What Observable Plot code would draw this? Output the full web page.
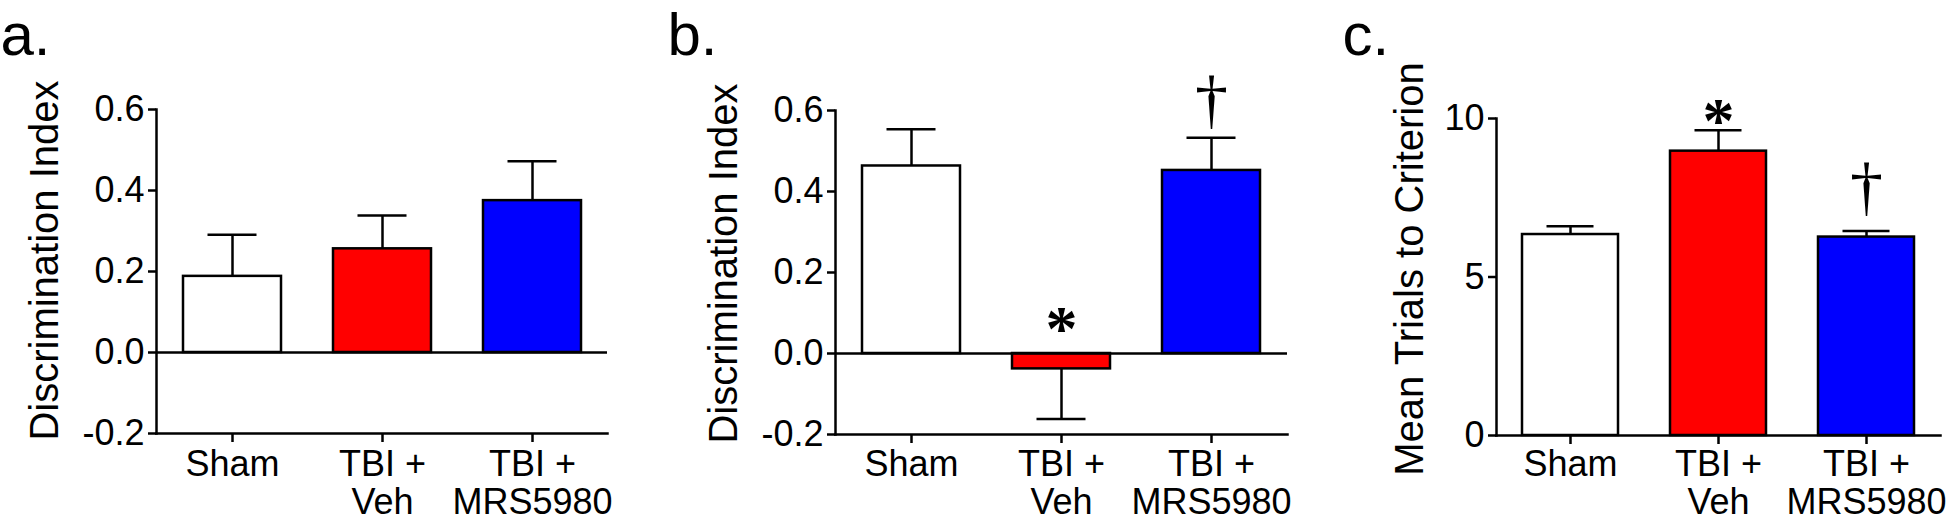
<!DOCTYPE html>
<html><head><meta charset="utf-8">
<script src="https://cdn.jsdelivr.net/npm/d3@7"></script>
<script src="https://cdn.jsdelivr.net/npm/@observablehq/plot@0.6"></script>
<style>
body{margin:0;background:#fff;}
#wrap{position:relative;width:1946px;height:522px;overflow:hidden;background:#fff;}
.panel{position:absolute;top:0;}
</style></head><body><div id="wrap"></div>
<script>
// ---- data ----
const groups = ["Sham", "TBI + Veh", "TBI + MRS5980"];
const groupLabels = ["Sham", "TBI +\nVeh", "TBI +\nMRS5980"];
const groupColors = ["#ffffff", "#ff0000", "#0000ff"];

const meanA = [0.188, 0.256, 0.375];
const semA  = [0.103, 0.082, 0.097];
const meanB = [0.463, -0.038, 0.452];
const semB  = [0.091, 0.124, 0.081];
const meanC = [6.34, 8.97, 6.26];
const semC  = [0.26, 0.66, 0.19];

const ticksDI = [-0.2, 0, 0.2, 0.4, 0.6];
const tickLabelsDI = ["-0.2", "0.0", "0.2", "0.4", "0.6"];
const ticksTrials = [0, 5, 10];
const tickLabelsTrials = ["0", "5", "10"];

const annotB = [{group: "TBI + Veh", symbol: "*"}, {group: "TBI + MRS5980", symbol: "\u2020"}];
const annotC = [{group: "TBI + Veh", symbol: "*"}, {group: "TBI + MRS5980", symbol: "\u2020"}];

const FONT = "'Liberation Sans', Arial, Helvetica, sans-serif";
const SERIF = "'Liberation Serif', 'Times New Roman', serif";
const SW = 2.5;

function panel(cfg) {
  const data = groups.map((g, i) => ({
    g, mean: cfg.means[i], color: groupColors[i],
    end: cfg.means[i] < 0 ? cfg.means[i] - cfg.sems[i] : cfg.means[i] + cfg.sems[i]
  }));
  const byGroup = new Map(data.map(d => [d.g, d]));
  const marks = [
    Plot.barY(data, {x: "g", y: "mean", fill: "color", stroke: "black", strokeWidth: SW}),
    Plot.ruleX(data, {x: "g", y1: "mean", y2: "end", stroke: "black", strokeWidth: SW}),
    Plot.tickY(data, {x: "g", y: "end", stroke: "black", strokeWidth: SW, insetLeft: 24.5, insetRight: 24.5}),
  ];
  if (cfg.zero) marks.push(Plot.ruleY([0], {stroke: "black", strokeWidth: SW}));
  marks.push(
    Plot.frame({anchor: "left", stroke: "black", strokeWidth: SW}),
    Plot.frame({anchor: "bottom", stroke: "black", strokeWidth: SW}),
    Plot.axisY({ticks: cfg.ticks, tickFormat: (d) => cfg.tickLabels[cfg.ticks.indexOf(d)], tickSize: 8, tickPadding: 4,
      strokeWidth: SW, fontSize: 36, fontFamily: FONT, fill: "black", label: null}),
    Plot.axisX({tickSize: 9, tickPadding: cfg.xPad, strokeWidth: SW, fontSize: 36, fontFamily: FONT, fill: "black",
      lineHeight: 1.04, tickFormat: (d) => groupLabels[groups.indexOf(d)], label: null}),
    Plot.text([cfg.title], {frameAnchor: "left", rotate: -90, dx: -cfg.titleOffset, dy: cfg.titleDy,
      fontSize: 40, fontFamily: FONT, fill: "black", textAnchor: "middle", lineAnchor: "middle"}),
    Plot.text([cfg.letter], {frameAnchor: "top-left", dx: -cfg.marginLeft + cfg.letterX, dy: -cfg.marginTop + 54,
      fontSize: 60, fontFamily: FONT, fill: "black", textAnchor: "start", lineAnchor: "bottom"})
  );
  for (const a of (cfg.annots || [])) {
    const d = byGroup.get(a.group);
    const base = Math.max(d.mean, d.end, 0);
    const star = a.symbol === "*";
    marks.push(Plot.text([a.symbol], {x: () => a.group, y: () => base,
      dy: star ? cfg.starDy : cfg.daggerDy,
      fontSize: star ? 64 : 66, fontWeight: star ? "bold" : "normal",
      fontFamily: SERIF, fill: "black", textAnchor: "middle", lineAnchor: "middle"}));
  }
  const svg = Plot.plot({
    width: cfg.width, height: 522,
    marginLeft: cfg.marginLeft, marginRight: cfg.marginRight, marginTop: cfg.marginTop, marginBottom: cfg.marginBottom,
    x: {domain: groups, paddingInner: 0.35, paddingOuter: 0.175, axis: null},
    y: {domain: cfg.domain, axis: null},
    color: {type: "identity"},
    style: {fontFamily: FONT, fontSize: "36px", color: "black", background: "white", overflow: "visible"},
    marks
  });
  svg.classList.add("panel");
  svg.style.left = cfg.left + "px";
  svg.style.position = "absolute";
  document.getElementById("wrap").appendChild(svg);
}

panel({left: 0, width: 650, marginLeft: 156, marginRight: 43, marginTop: 109, marginBottom: 89,
  domain: [-0.2, 0.6], ticks: ticksDI, tickLabels: tickLabelsDI, means: meanA, sems: semA, zero: true, xPad: 7,
  title: "Discrimination Index", titleOffset: 111, titleDy: -11, letter: "a.", letterX: 0});

panel({left: 650, width: 650, marginLeft: 185, marginRight: 13, marginTop: 110, marginBottom: 88,
  domain: [-0.2, 0.6], ticks: ticksDI, tickLabels: tickLabelsDI, means: meanB, sems: semB, zero: true, xPad: 6,
  title: "Discrimination Index", titleOffset: 111, titleDy: -9, letter: "b.", letterX: 17,
  annots: annotB, starDy: -24, daggerDy: -38});

panel({left: 1300, width: 646, marginLeft: 196, marginRight: 6, marginTop: 118, marginBottom: 87,
  domain: [0, 10], ticks: ticksTrials, tickLabels: tickLabelsTrials, means: meanC, sems: semC, zero: false, xPad: 5,
  title: "Mean Trials to Criterion", titleOffset: 86, titleDy: -8, letter: "c.", letterX: 42,
  annots: annotC, starDy: -9, daggerDy: -44});
</script></body></html>
